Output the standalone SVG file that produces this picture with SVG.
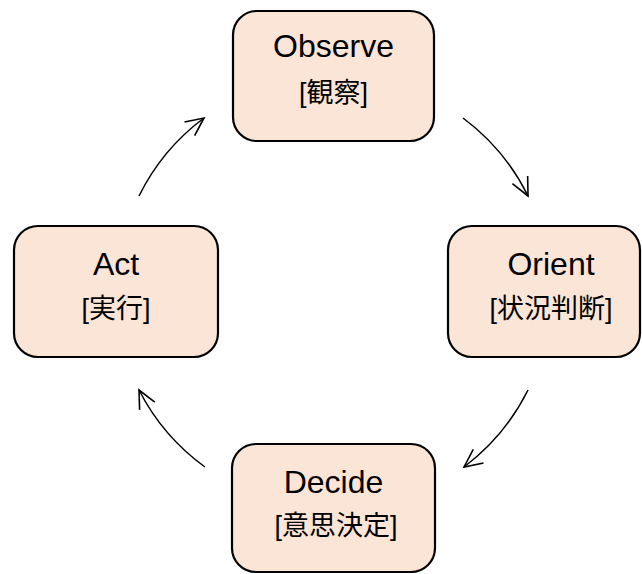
<svg xmlns="http://www.w3.org/2000/svg" width="642" height="574" viewBox="0 0 642 574">
<style>
.box{fill:#FBE5D6;stroke:#000;stroke-width:2.2}
.en{font-family:"Liberation Sans","Noto Sans CJK JP",sans-serif;font-size:32px;fill:#000;text-anchor:middle}
.jp{font-family:"Liberation Sans","Noto Sans CJK JP",sans-serif;font-size:27px;fill:#000;text-anchor:middle}
.arc{fill:none;stroke:#000;stroke-width:1.5}
</style>
<defs>
<marker id="ah" markerUnits="userSpaceOnUse" markerWidth="40" markerHeight="40" viewBox="-20 -20 40 40" refX="0" refY="0" orient="auto">
<path d="M-18,-8.5 L0,0 L-18,8.5" fill="none" stroke="#000" stroke-width="1.6"/>
</marker>
</defs>
<g id="observe">
<rect class="box" x="233" y="11" width="201" height="130" rx="24"/>
<text class="en" x="333.5" y="57">Observe</text>
<text class="jp" x="333.5" y="102">[観察]</text>
</g>
<g id="orient">
<rect class="box" x="448" y="226" width="192" height="131" rx="24"/>
<text class="en" x="551" y="275">Orient</text>
<text class="jp" x="551" y="318">[状況判断]</text>
</g>
<g id="decide">
<rect class="box" x="232" y="444" width="203" height="128" rx="24"/>
<text class="en" x="333.5" y="493">Decide</text>
<text class="jp" x="336" y="535">[意思決定]</text>
</g>
<g id="act">
<rect class="box" x="14" y="226" width="204" height="131" rx="24"/>
<text class="en" x="116" y="275">Act</text>
<text class="jp" x="116" y="318">[実行]</text>
</g>
<g id="connectors">
<path class="arc" d="M463,118 A217,217 0 0 1 528,196" marker-end="url(#ah)"/>
<path class="arc" d="M528,390 A217,217 0 0 1 464,467" marker-end="url(#ah)"/>
<path class="arc" d="M205,467 A217,217 0 0 1 139,390" marker-end="url(#ah)"/>
<path class="arc" d="M139,196 A217,217 0 0 1 204,118" marker-end="url(#ah)"/>
</g>
</svg>
